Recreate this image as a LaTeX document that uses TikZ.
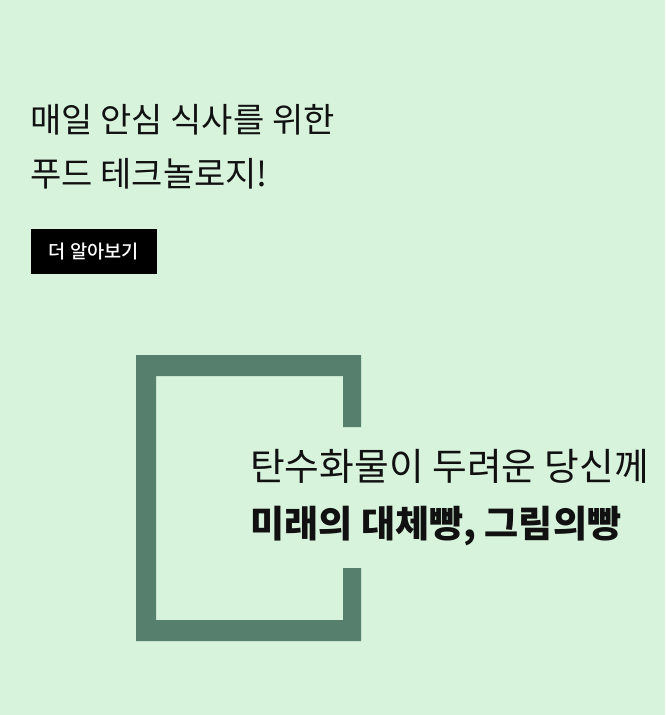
\documentclass[tikz,border=0pt]{standalone}
\usepackage{fontspec}
\setmainfont{Noto Sans CJK KR}
\newfontfamily\krmedium{Noto Sans CJK KR Medium}
\usepackage{xcolor}
\definecolor{bgmint}{HTML}{D8F3DC}
\definecolor{framegreen}{HTML}{577F6D}
\definecolor{inkdark}{HTML}{111111}
\tikzset{
  headline/.style = {anchor=base west, inner sep=0pt,
          text=inkdark, font=\fontsize{25.5}{30}\selectfont},
  slogan/.style   = {headline, font=\fontsize{28.3}{34}\selectfont},
  strong/.style   = {slogan, font=\fontsize{27.8}{33}\selectfont\bfseries},
  button/.style   = {rectangle, fill=black, text=white, inner sep=0pt,
          minimum width=94.5pt, minimum height=33.75pt,
          font=\fontsize{14}{16}\selectfont\krmedium}
}
\begin{document}
\begin{tikzpicture}[x=0.75pt, y=-0.75pt]
  % page and background
  \fill [bgmint] (0,0) rectangle (665,715);
  \useasboundingbox (0,0) rectangle (665,715);

  % heading and button
  \node [headline] (head1) at (30,132) {매일 안심 식사를 위한};
  \node [headline] (head2) at (30,186) {푸드 테크놀로지!};
  \node [button]   (more)  at (94,251.5) {더 알아보기};

  % open bracket frame
  \fill [framegreen]
    (361,355) -- (136,355) -- (136,641) -- (361,641) -- (361,568)
    -- (343,568) -- (343,620) -- (156,620) -- (156,376) -- (343,376)
    -- (343,427) -- (361,427) -- cycle;

  % slogan
  \node [slogan] (line1) at (250,480) {탄수화물이 두려운 당신께};
  \node [strong] (line2) at (250,537) {미래의 대체빵, 그림의빵};
\end{tikzpicture}
\end{document}
